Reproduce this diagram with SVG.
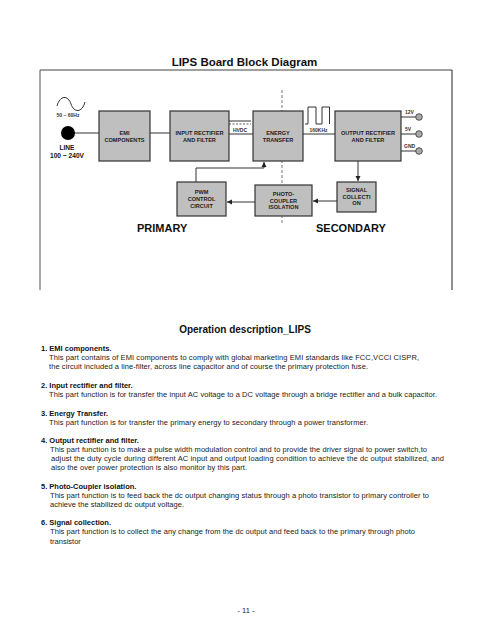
<svg xmlns="http://www.w3.org/2000/svg" width="480" height="640" viewBox="0 0 480 640">
<defs>
<marker id="ah" markerWidth="6" markerHeight="6" refX="5" refY="3" orient="auto" markerUnits="userSpaceOnUse"><path d="M0,0.5 L5,3 L0,5.5 Z" fill="#222"/></marker>
</defs>
<style>
.box{fill:#bfbfbf;stroke:#333;stroke-width:1.2}
.bl{font-family:"Liberation Sans",Arial,sans-serif;font-weight:bold;font-size:5.6px;fill:#222;text-anchor:middle}
.sm{font-family:"Liberation Sans",Arial,sans-serif;font-weight:bold;font-size:5px;fill:#333}
.ln{stroke:#333;stroke-width:1;fill:none}
.h{font-family:"Liberation Sans",Arial,sans-serif;font-weight:bold;fill:#111}
.t{font-family:"Liberation Sans",Arial,sans-serif;font-size:7.5px;fill:#222}
.tb{font-family:"Liberation Sans",Arial,sans-serif;font-size:7.5px;font-weight:bold;fill:#111}
</style>
<rect width="480" height="640" fill="#fff"/>
<text class="h" x="244.5" y="66" font-size="11.5" text-anchor="middle">LIPS Board Block Diagram</text>
<g id="frame">
<line x1="40" y1="70" x2="452" y2="70" stroke="#808080" stroke-width="1.5"/>
<line x1="40" y1="70" x2="40" y2="290" stroke="#555" stroke-width="1"/>
<line x1="452" y1="70" x2="452" y2="290" stroke="#222" stroke-width="1"/>
</g>
<line x1="282" y1="90" x2="282" y2="224" stroke="#555" stroke-width="0.8" stroke-dasharray="3,2"/>
<g id="connectors">
<path class="ln" d="M57,106 C60,95 68,95 71,104 C74,113 82,113 85,102"/>
<line class="ln" x1="68" y1="133" x2="99" y2="133"/>
<line class="ln" x1="150" y1="133" x2="170" y2="133"/>
<line x1="229" y1="121" x2="251" y2="121" stroke="#333" stroke-width="1"/>
<line x1="229" y1="124" x2="251" y2="124" stroke="#333" stroke-width="0.8" stroke-dasharray="2,1.5"/>
<line class="ln" x1="229" y1="134" x2="253" y2="134"/>
<path class="ln" d="M305,124 L308,124 L308,107 L316,107 L316,124 L322,124 L322,107 L329.5,107 L329.5,124"/>
<line class="ln" x1="303" y1="134" x2="335" y2="134"/>
<path class="ln" d="M401,117 L416,117 M401,134 L416,134 M401,151 L416,151"/>
<line class="ln" x1="358" y1="161" x2="358" y2="181" marker-end="url(#ah)"/>
<line class="ln" x1="337" y1="201" x2="313" y2="201" marker-end="url(#ah)"/>
<line class="ln" x1="255" y1="202" x2="227" y2="202" marker-end="url(#ah)"/>
<path class="ln" d="M196,182 L196,168 L264,168 L264,162" marker-end="url(#ah)"/>
</g>
<g id="source">
<text class="sm" x="68" y="117" font-size="4.5" text-anchor="middle">50 ~ 60Hz</text>
<circle cx="68" cy="133" r="7" fill="#000"/>
<text class="h" x="67" y="150" font-size="6.6" text-anchor="middle">LINE</text>
<text class="h" x="67" y="158" font-size="6.6" text-anchor="middle">100 ~ 240V</text>
</g>
<g id="emi"><rect class="box" x="99" y="111" width="51" height="50"/><text class="bl" x="124.5" y="135">EMI</text><text class="bl" x="124.5" y="142">COMPONENTS</text></g>
<g id="input"><rect class="box" x="170" y="111" width="59" height="50"/><text class="bl" x="199.5" y="135">INPUT RECTIFIER</text><text class="bl" x="199.5" y="142">AND FILTER</text></g>
<text class="sm" x="240" y="132" text-anchor="middle">HVDC</text>
<g id="energy"><rect class="box" x="253" y="111" width="50" height="50"/><text class="bl" x="278" y="135">ENERGY</text><text class="bl" x="278" y="142">TRANSFER</text></g>
<text class="sm" x="318.5" y="132" font-size="4.8" text-anchor="middle">160KHz</text>
<g id="output"><rect class="box" x="335" y="111" width="66" height="50"/><text class="bl" x="368" y="135">OUTPUT RECTIFIER</text><text class="bl" x="368" y="142">AND FILTER</text></g>
<g id="outputs">
<text class="sm" x="405" y="114">12V</text>
<text class="sm" x="405" y="131">5V</text>
<text class="sm" x="404" y="148">GND</text>
<circle cx="419" cy="117" r="3.3" fill="#aaa" stroke="#333" stroke-width="0.8"/>
<circle cx="419" cy="134" r="3.3" fill="#aaa" stroke="#333" stroke-width="0.8"/>
<circle cx="419" cy="151" r="3.3" fill="#aaa" stroke="#333" stroke-width="0.8"/>
</g>
<g id="pwm"><rect class="box" x="177" y="182" width="49" height="34"/><text class="bl" x="201.5" y="194">PWM</text><text class="bl" x="201.5" y="201">CONTROL</text><text class="bl" x="201.5" y="208">CIRCUIT</text></g>
<g id="photo"><rect class="box" x="255" y="185" width="57" height="31"/><text class="bl" x="283.5" y="196">PHOTO-</text><text class="bl" x="283.5" y="203">COUPLER</text><text class="bl" x="283.5" y="209">ISOLATION</text></g>
<g id="signal"><rect class="box" x="337" y="182" width="39" height="30"/><text class="bl" x="356.5" y="192">SIGNAL</text><text class="bl" x="356.5" y="199">COLLECTI</text><text class="bl" x="356.5" y="205">ON</text></g>
<text class="h" x="137" y="232" font-size="11">PRIMARY</text>
<text class="h" x="316" y="232" font-size="11">SECONDARY</text>
<g id="description">
<text class="h" x="245" y="333" font-size="10" text-anchor="middle">Operation description_LIPS</text>
<text class="tb" x="41" y="351">1. EMI components.</text>
<text class="t" x="49" y="360" textLength="370">This part contains of EMI components to comply with global marketing EMI standards like FCC,VCCI CISPR,</text>
<text class="t" x="49" y="369" textLength="319">the circuit included a line-filter, across line capacitor and of course the primary protection fuse.</text>
<text class="tb" x="41" y="388">2. Input rectifier and filter.</text>
<text class="t" x="49" y="397" textLength="388">This part function is for transfer the input AC voltage to a DC voltage through a bridge rectifier and a bulk capacitor.</text>
<text class="tb" x="41" y="416">3. Energy Transfer.</text>
<text class="t" x="49" y="425" textLength="319">This part function is for transfer the primary energy to secondary through a power transformer.</text>
<text class="tb" x="41" y="443">4. Output rectifier and filter.</text>
<text class="t" x="50" y="452" textLength="377">This part function is to make a pulse width modulation control and to provide the driver signal to power switch,to</text>
<text class="t" x="51" y="461" textLength="393">adjust the duty cycle during different AC input and output loading condition to achieve the dc output stabilized, and</text>
<text class="t" x="51" y="470" textLength="196">also the over power protection is also monitor by this part.</text>
<text class="tb" x="41" y="489">5. Photo-Coupler isolation.</text>
<text class="t" x="50" y="498" textLength="379">This part function is to feed back the dc output changing status through a photo transistor to primary controller to</text>
<text class="t" x="50" y="507" textLength="134">achieve the stabilized dc output voltage.</text>
<text class="tb" x="41" y="525">6. Signal collection.</text>
<text class="t" x="50" y="534" textLength="365">This part function is to collect the any change from the dc output and feed back to the primary through photo</text>
<text class="t" x="50" y="544">transistor</text>
</g>
<text class="t" x="246" y="613" text-anchor="middle">- 11 -</text>
</svg>
